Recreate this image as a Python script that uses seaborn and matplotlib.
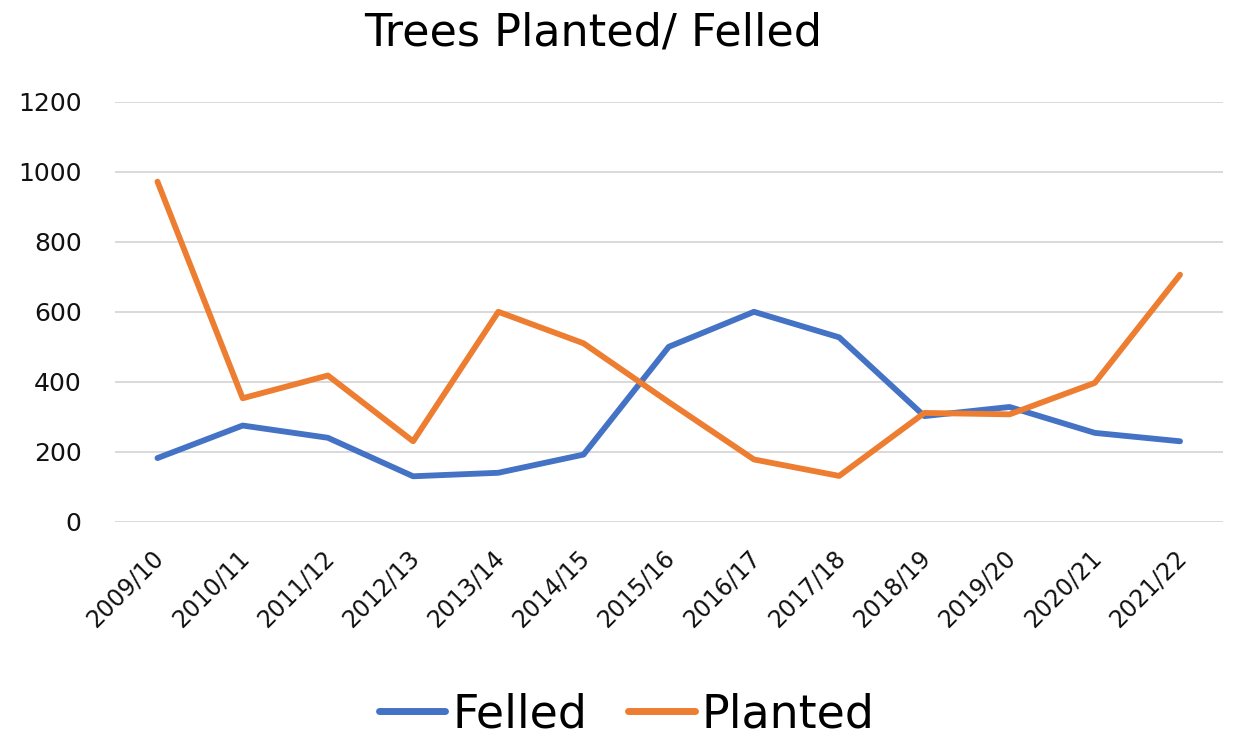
import pandas as pd
import matplotlib
matplotlib.use("Agg")
import matplotlib.pyplot as plt
import matplotlib.transforms as mtransforms
import seaborn as sns

# Chart data
years = ["2009/10", "2010/11", "2011/12", "2012/13", "2013/14", "2014/15", "2015/16",
         "2016/17", "2017/18", "2018/19", "2019/20", "2020/21", "2021/22"]
felled = [182, 275, 240, 130, 140, 192, 500, 600, 527, 302, 328, 254, 230]
planted = [972, 353, 418, 230, 600, 510, 342, 178, 131, 311, 307, 397, 706]
y_ticks = [0, 200, 400, 600, 800, 1000, 1200]

df = pd.DataFrame({"Year": years * 2,
                   "Trees": felled + planted,
                   "Series": ["Felled"] * len(years) + ["Planted"] * len(years)})

sns.set_theme(style="white")
plt.rcParams["font.family"] = ["DejaVu Sans"]

fig = plt.figure(figsize=(12.35, 7.38), dpi=100)
ax = fig.add_axes([0.093, 0.293, 0.897, 0.569])

sns.lineplot(data=df, x="Year", y="Trees", hue="Series", sort=False,
             palette={"Felled": "#4472C4", "Planted": "#ED7D31"},
             linewidth=4.2, ax=ax, clip_on=False)

ax.set_xlim(-0.5, len(years) - 0.5)
ax.set_ylim(0, 1200)
ax.set_yticks(y_ticks)
ax.grid(axis="y", color="#D9D9D9", linewidth=1.4)
ax.set_axisbelow(True)
for s in ax.spines.values():
    s.set_visible(False)
ax.tick_params(axis="y", length=0, pad=24, labelsize=18, labelcolor="#111111")
ax.tick_params(axis="x", length=0, pad=17, labelsize=17, labelcolor="#111111")
shift = mtransforms.ScaledTranslation(-0.06, 0, fig.dpi_scale_trans)
for lab in ax.get_xticklabels():
    lab.set_rotation(45)
    lab.set_ha("right")
    lab.set_rotation_mode("anchor")
    lab.set_transform(lab.get_transform() + shift)
ax.set_xlabel("")
ax.set_ylabel("")

fig.suptitle("Trees Planted/ Felled", fontsize=32, x=0.480, y=0.985, color="#000000")

handles, labels = ax.get_legend_handles_labels()
leg = ax.legend(handles, labels, loc="center", bbox_to_anchor=(0.462, -0.46), ncol=2,
                frameon=False, fontsize=33, handlelength=1.45, handletextpad=0.15,
                columnspacing=0.9, labelcolor="#000000")
for line in leg.get_lines():
    line.set_linewidth(5)
    line.set_solid_capstyle("round")

fig.savefig("out.png", dpi=100)
